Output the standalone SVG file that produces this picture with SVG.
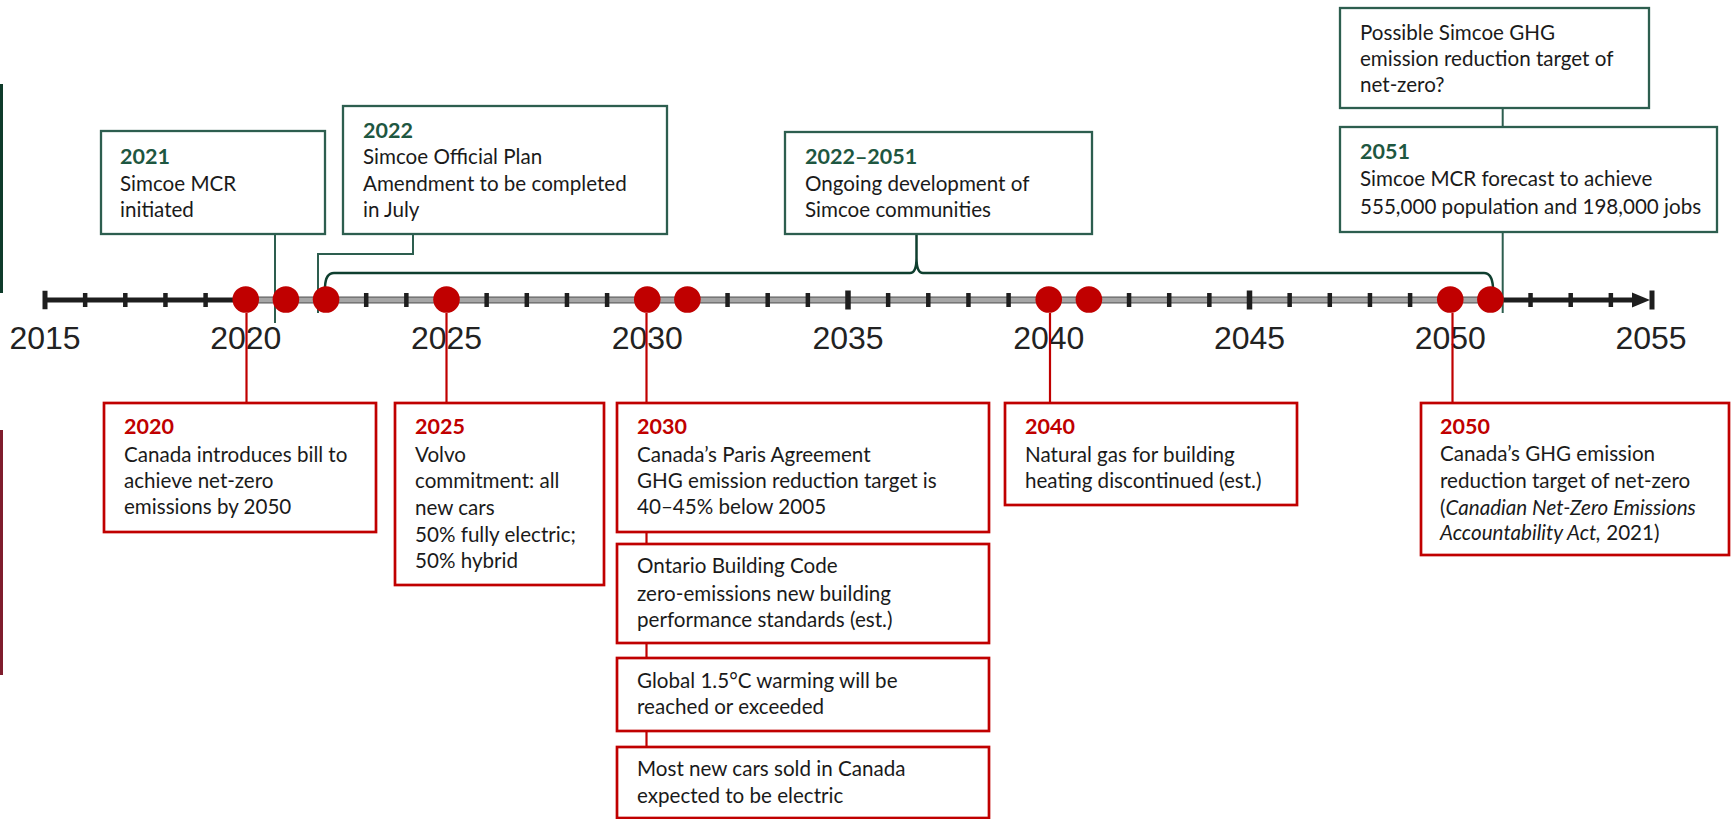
<svg xmlns="http://www.w3.org/2000/svg" width="1731" height="819" viewBox="0 0 1731 819">
<style>
.gbox{fill:#fff;stroke:#2D5E4F;stroke-width:2.3}
.rbox{fill:#fff;stroke:#C00000;stroke-width:2.7}
.t{font-family:Lato,"Liberation Sans",Arial,sans-serif;font-size:20.6px;fill:#1a1a1a}
.gt{font-family:Lato,"Liberation Sans",Arial,sans-serif;font-size:21.5px;font-weight:bold;fill:#1E5741}
.rt{font-family:Lato,"Liberation Sans",Arial,sans-serif;font-size:21.5px;font-weight:bold;fill:#C00000}
.yr{font-family:"Liberation Sans",Arial,sans-serif;font-size:32px;fill:#222;text-anchor:middle}
.gl{fill:none;stroke:#2D5E4F;stroke-width:2}
.br{fill:none;stroke:#0F3F2F;stroke-width:2.5}
.rl{fill:none;stroke:#C00000;stroke-width:2.2}
.dot{fill:#C00000}
</style>
<rect x="0" y="84" width="3" height="209" fill="#0E3B2A"/>
<rect x="0" y="430" width="3" height="245" fill="#7F1D2D"/>
<g id="axis">
<path d="M45 300H247" stroke="#1e1e1e" stroke-width="5" fill="none"/>
<rect x="246" y="297" width="1244" height="6" fill="#A6A6A6" stroke="#333" stroke-width="0.8"/>
<path d="M1490 300H1636" stroke="#1e1e1e" stroke-width="5" fill="none"/>
<polygon points="1632,292.5 1650,300 1632,307.5" fill="#1e1e1e"/>
<path d="M45 290.7V309.3M1652 290.5V309.5" stroke="#1e1e1e" stroke-width="5" fill="none"/>
<path d="M85.15 293V307M125.3 293V307M165.45 293V307M205.6 293V307M366.2 293V307M406.35 293V307M486.65 293V307M526.8 293V307M566.95 293V307M607.1 293V307M727.55 293V307M767.7 293V307M807.85 293V307M888.15 293V307M928.3 293V307M968.45 293V307M1008.6 293V307M1129.05 293V307M1169.2 293V307M1209.35 293V307M1289.65 293V307M1329.8 293V307M1369.95 293V307M1410.1 293V307M1530.55 293V307M1570.7 293V307M1610.85 293V307" stroke="#1e1e1e" stroke-width="4.5" fill="none"/>
<path d="M848 290.5V309.5M1249.5 290.5V309.5" stroke="#1e1e1e" stroke-width="5.5" fill="none"/>
<text class="yr" x="45" y="348.5">2015</text>
<text class="yr" x="245.75" y="348.5">2020</text>
<text class="yr" x="446.5" y="348.5">2025</text>
<text class="yr" x="647.25" y="348.5">2030</text>
<text class="yr" x="848" y="348.5">2035</text>
<text class="yr" x="1048.75" y="348.5">2040</text>
<text class="yr" x="1249.5" y="348.5">2045</text>
<text class="yr" x="1450.25" y="348.5">2050</text>
<text class="yr" x="1651" y="348.5">2055</text>
</g>
<g id="connectors">
<path class="gl" d="M275 234V323"/>
<path class="gl" d="M413 234V254H318V313"/>
<path class="gl" d="M1502.7 108V127"/>
<path class="gl" d="M1502.7 232V313"/>
<path class="br" d="M325 287Q325.5 273 334 273L910 273Q916.5 273 916.5 258L916.5 234M916.5 258Q916.5 273 923 273L1484 273Q1492 273 1493 287"/>
<path class="rl" d="M246.5 313V403"/>
<path class="rl" d="M446.5 313V403"/>
<path class="rl" d="M646.5 313V747"/>
<path class="rl" d="M1050 313V403"/>
<path class="rl" d="M1452.5 313V403"/>
</g>
<g id="dots">
<circle class="dot" cx="245.75" cy="299.5" r="13.3"/>
<circle class="dot" cx="285.9" cy="299.5" r="13.3"/>
<circle class="dot" cx="326.05" cy="299.5" r="13.3"/>
<circle class="dot" cx="446.5" cy="299.5" r="13.3"/>
<circle class="dot" cx="647.25" cy="299.5" r="13.3"/>
<circle class="dot" cx="687.4" cy="299.5" r="13.3"/>
<circle class="dot" cx="1048.75" cy="299.5" r="13.3"/>
<circle class="dot" cx="1088.9" cy="299.5" r="13.3"/>
<circle class="dot" cx="1450.25" cy="299.5" r="13.3"/>
<circle class="dot" cx="1490.4" cy="299.5" r="13.3"/>
</g>
<g id="n2021">
<rect class="gbox" x="101" y="131" width="224" height="103"/>
<text class="gt" x="120" y="164">2021</text>
<text class="t" x="120" y="190.5">Simcoe MCR</text>
<text class="t" x="120" y="217">initiated</text>
</g>
<g id="n2022">
<rect class="gbox" x="343" y="106" width="324" height="128"/>
<text class="gt" x="363" y="137.5">2022</text>
<text class="t" x="363" y="164">Simcoe Official Plan</text>
<text class="t" x="363" y="190.5">Amendment to be completed</text>
<text class="t" x="363" y="217">in July</text>
</g>
<g id="n2022-2051">
<rect class="gbox" x="785" y="132" width="307" height="102"/>
<text class="gt" x="805" y="163.5">2022–2051</text>
<text class="t" x="805" y="190.5">Ongoing development of</text>
<text class="t" x="805" y="217">Simcoe communities</text>
</g>
<g id="nPossible">
<rect class="gbox" x="1340" y="8" width="309" height="100"/>
<text class="t" x="1360" y="39.5">Possible Simcoe GHG</text>
<text class="t" x="1360" y="65.5">emission reduction target of</text>
<text class="t" x="1360" y="91.5">net-zero?</text>
</g>
<g id="n2051">
<rect class="gbox" x="1340" y="127" width="377" height="105"/>
<text class="gt" x="1360" y="158.5">2051</text>
<text class="t" x="1360" y="185.5">Simcoe MCR forecast to achieve</text>
<text class="t" x="1360" y="214">555,000 population and 198,000 jobs</text>
</g>
<g id="n2020">
<rect class="rbox" x="104" y="403" width="272" height="129"/>
<text class="rt" x="124" y="434.3">2020</text>
<text class="t" x="124" y="461.7">Canada introduces bill to</text>
<text class="t" x="124" y="488.3">achieve net-zero</text>
<text class="t" x="124" y="514.3">emissions by 2050</text>
</g>
<g id="n2025">
<rect class="rbox" x="395" y="403" width="209" height="182"/>
<text class="rt" x="415" y="434.3">2025</text>
<text class="t" x="415" y="461.7">Volvo</text>
<text class="t" x="415" y="488.3">commitment: all</text>
<text class="t" x="415" y="515">new cars</text>
<text class="t" x="415" y="541.5">50% fully electric;</text>
<text class="t" x="415" y="568">50% hybrid</text>
</g>
<g id="n2030">
<rect class="rbox" x="617" y="403" width="372" height="129"/>
<text class="rt" x="637" y="434.3">2030</text>
<text class="t" x="637" y="461.7">Canada’s Paris Agreement</text>
<text class="t" x="637" y="488.3">GHG emission reduction target is</text>
<text class="t" x="637" y="514.3">40–45% below 2005</text>
</g>
<g id="nOntario">
<rect class="rbox" x="617" y="544" width="372" height="99"/>
<text class="t" x="637" y="573.3">Ontario Building Code</text>
<text class="t" x="637" y="600.7">zero-emissions new building</text>
<text class="t" x="637" y="626.7">performance standards (est.)</text>
</g>
<g id="nGlobal">
<rect class="rbox" x="617" y="658" width="372" height="73"/>
<text class="t" x="637" y="688.3">Global 1.5°C warming will be</text>
<text class="t" x="637" y="714.3">reached or exceeded</text>
</g>
<g id="nCars">
<rect class="rbox" x="617" y="747" width="372" height="71"/>
<text class="t" x="637" y="775.7">Most new cars sold in Canada</text>
<text class="t" x="637" y="802.7">expected to be electric</text>
</g>
<g id="n2040">
<rect class="rbox" x="1005" y="403" width="292" height="102"/>
<text class="rt" x="1025" y="434.3">2040</text>
<text class="t" x="1025" y="461.7">Natural gas for building</text>
<text class="t" x="1025" y="488.3">heating discontinued (est.)</text>
</g>
<g id="n2050">
<rect class="rbox" x="1421" y="403" width="308" height="152"/>
<text class="rt" x="1440" y="434.3">2050</text>
<text class="t" x="1440" y="461">Canada’s GHG emission</text>
<text class="t" x="1440" y="488">reduction target of net-zero</text>
<text class="t" x="1440" y="514.5">(<tspan font-style="italic">Canadian Net-Zero Emissions</tspan></text>
<text class="t" x="1440" y="540"><tspan font-style="italic">Accountability Act,</tspan> 2021)</text>
</g>
</svg>
